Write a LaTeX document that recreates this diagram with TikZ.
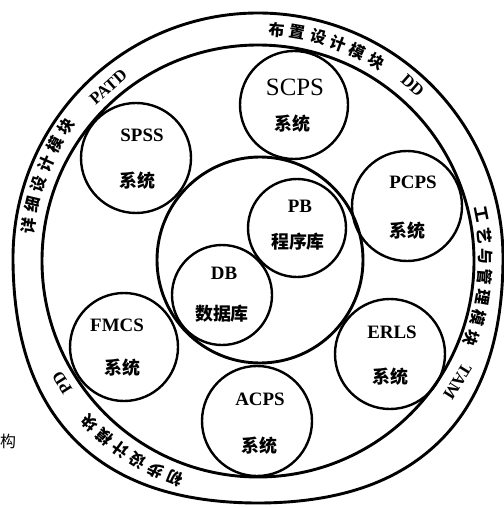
\documentclass[tikz,border=0pt]{standalone}
\usepackage{fontspec}
\setmainfont{Liberation Serif}
\newfontfamily\cjk{Noto Sans CJK SC}
\usetikzlibrary{calc}
\newcommand\ringchars[5]{%
  \foreach \ch [count=\i from 0] in {#5}{%
    \pgfmathsetmacro\ang{#2-\i*#3}%
    \pgfmathsetmacro\nang{-(\ang)}%
    \node[ringzh, rotate=\ang-90] (#1\i) at ($(rc)+(\nang:#4)$) {\ch};}}
\begin{document}
\begin{tikzpicture}[x=1bp,y=-1bp,
  declare function={outr(\t)=245+13*(\t>180)*sin(2*\t)^2;},
  ring/.style={line width=2.9bp, line join=round},
  sat/.style={line width=2.4bp},
  lat/.style={font=\fontsize{19}{19}\selectfont\bfseries, inner sep=0pt},
  latreg/.style={font=\fontsize{25}{25}\selectfont, inner sep=0pt},
  zh/.style={font=\fontsize{18}{18}\selectfont\cjk\bfseries, inner sep=0pt},
  ringzh/.style={font=\fontsize{16}{16}\selectfont\cjk\bfseries, inner sep=0pt},
  ringlat/.style={font=\fontsize{17}{17}\selectfont\bfseries, inner sep=0pt},
  side/.style={font=\fontsize{16}{16}\selectfont\cjk, inner sep=0pt, anchor=west}]
\useasboundingbox (0,0) rectangle (504,508);
\coordinate (rc) at (259,258);
% outer ring (hand-drawn, slightly bulging at the bottom)
\draw[ring] plot[domain=0:359, samples=360] ({258+outr(\x)*cos(\x)}, {258-outr(\x)*sin(\x)}) -- cycle;
% inner ring
\draw[ring] (258,261) circle[radius=216bp];
% central circle
\draw[ring] (260,260) circle[radius=103bp];
% satellites
\draw[sat] (294,105) circle[radius=54bp];
\draw[sat] (136,158) circle[radius=55bp];
\draw[sat] (407,206) circle[radius=55bp];
\draw[sat] (390,354) circle[radius=55bp];
\draw[sat] (257,421) circle[radius=55bp];
\draw[sat] (124,347) circle[radius=54bp];
\draw[sat] (297,228) circle[radius=49bp];
\draw[sat] (222,295) circle[radius=50bp];
% labels
\node[latreg] (scps) at (295,87) {SCPS};
\node[zh] (scpsz) at (292,124) {系统};
\node[lat] (spss) at (142,135) {SPSS};
\node[zh] (spssz) at (137,181) {系统};
\node[lat] (pcps) at (413,182) {PCPS};
\node[zh] (pcpsz) at (407,231) {系统};
\node[lat] (pb) at (300,206) {PB};
\node[zh] (pbz) at (298,242) {程序库};
\node[lat] (db) at (224,273) {DB};
\node[zh] (dbz) at (222,314) {数据库};
\node[lat] (fmcs) at (117,325) {FMCS};
\node[zh] (fmcsz) at (122,368) {系统};
\node[lat] (erls) at (392,332) {ERLS};
\node[zh] (erlsz) at (390,377) {系统};
\node[lat] (acps) at (260,399) {ACPS};
\node[zh] (acpsz) at (259,446) {系统};
% ring texts
\ringchars{ta}{85.5}{5.25}{229}{布,置,设,计,模,块}
\node[ringlat, rotate=48.3-90] (dd) at ($(rc)+(-48.3:231)$) {DD};
\ringchars{tb}{11}{5.27}{227}{工,艺,与,管,理,模,块}
\node[ringlat, rotate=-32-90] (tam) at ($(rc)+(32:234)$) {TAM};
\ringchars{tc}{-111}{4.96}{236}{初,步,设,计,模,块}
\node[ringlat, rotate=-147.6-90] (pd) at ($(rc)+(147.6:233)$) {PD};
\ringchars{td}{172}{5.26}{233}{详,细,设,计,模,块}
\node[ringlat, rotate=131.4-90] (patd) at ($(rc)+(-131.4:228)$) {PATD};
% cut-off caption character
\node[side] (gou) at (0,441) {构};
\end{tikzpicture}
\end{document}
